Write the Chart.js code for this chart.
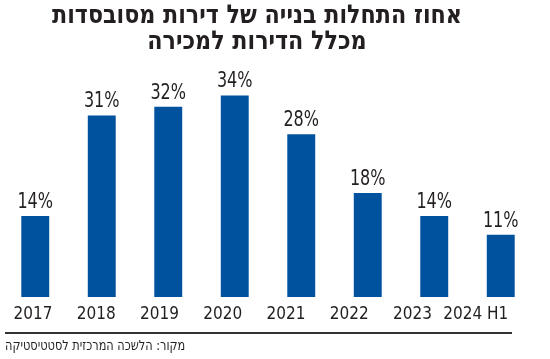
<!DOCTYPE html>
<html>
<head>
<meta charset="utf-8">
<script src="https://cdn.jsdelivr.net/npm/chart.js@4"></script>
<style>
  html, body { margin: 0; padding: 0; background: #fff; }
  #wrap { position: relative; width: 550px; height: 359px; overflow: hidden; }
  #title {
    position: absolute; left: 0; top: 1px; width: 514px;
    text-align: center; direction: rtl;
    font-family: "DejaVu Sans Condensed", "DejaVu Sans", sans-serif;
    font-weight: bold; font-size: 26px; line-height: 26px; color: #231f20;
    transform: scaleX(0.95); transform-origin: 257px 0;
  }
  #rule { position: absolute; left: 5px; top: 332px; width: 507px; height: 2px; background: #333; }
  #source {
    position: absolute; left: 5px; top: 337px; direction: rtl;
    font-family: "DejaVu Sans Condensed", "DejaVu Sans", sans-serif;
    font-size: 14px; color: #231f20;
    transform: scaleX(0.9); transform-origin: 0 0;
  }
  canvas { position: absolute; left: 0; top: 0; }
</style>
</head>
<body>
<div id="wrap">
  <canvas id="chart" width="550" height="359"></canvas>
  <div id="title">אחוז התחלות בנייה של דירות מסובסדות<br>מכלל הדירות למכירה</div>
  <div id="rule"></div>
  <div id="source">מקור: הלשכה המרכזית לסטטיסטיקה</div>
</div>
<script>
const years = ['2017', '2018', '2019', '2020', '2021', '2022', '2023', '2024 H1'];
const shares = [13.8, 30.9, 32.4, 34.3, 27.7, 17.7, 13.8, 10.6];

const FONT = '"DejaVu Sans Condensed", "DejaVu Sans", sans-serif';

// draws the % value above every bar
const valueLabels = {
  id: 'valueLabels',
  afterDatasetsDraw(chart) {
    const { ctx } = chart;
    const meta = chart.getDatasetMeta(0);
    ctx.save();
    ctx.font = `21px ${FONT}`;
    ctx.fillStyle = '#231f20';
    ctx.textAlign = 'center';
    ctx.textBaseline = 'alphabetic';
    meta.data.forEach((bar, i) => {
      // squeeze horizontally a bit, the original uses a condensed face
      ctx.save();
      ctx.translate(bar.x, bar.y - 8);
      ctx.scale(0.85, 1);
      ctx.fillText(`${Math.round(shares[i])}%`, 0, 0);
      ctx.restore();
    });
    ctx.restore();
  },
};

new Chart(document.getElementById('chart'), {
  type: 'bar',
  data: {
    labels: years,
    datasets: [{
      data: shares,
      backgroundColor: '#00529f',
      barPercentage: 0.42,
      categoryPercentage: 1,
      xAxisID: 'x',
    }],
  },
  options: {
    responsive: false,
    animation: false,
    layout: { padding: { top: 62, left: 2, right: 16, bottom: 0 } },
    plugins: { legend: { display: false }, tooltip: { enabled: false } },
    scales: {
      x: { display: false },
      // the year labels in the original sit on a slightly tighter pitch than the bars
      years: {
        type: 'linear',
        position: 'bottom',
        bounds: 'data',
        offset: false,
        min: -0.49,
        max: 7.92,
        grid: { display: false, drawTicks: false, offset: false },
        border: { display: false },
        afterBuildTicks(scale) { scale.ticks = years.map((_, i) => ({ value: i })); },
        ticks: {
          color: '#231f20', font: { family: FONT, size: 17 }, padding: 7,
          maxRotation: 0, autoSkip: false,
          callback: (v) => years[v] ?? '',
        },
        afterFit(scale) { scale.height = 62; },
      },
      y: { display: false, min: 0, max: 40 },
    },
  },
  plugins: [valueLabels],
});
</script>
</body>
</html>
